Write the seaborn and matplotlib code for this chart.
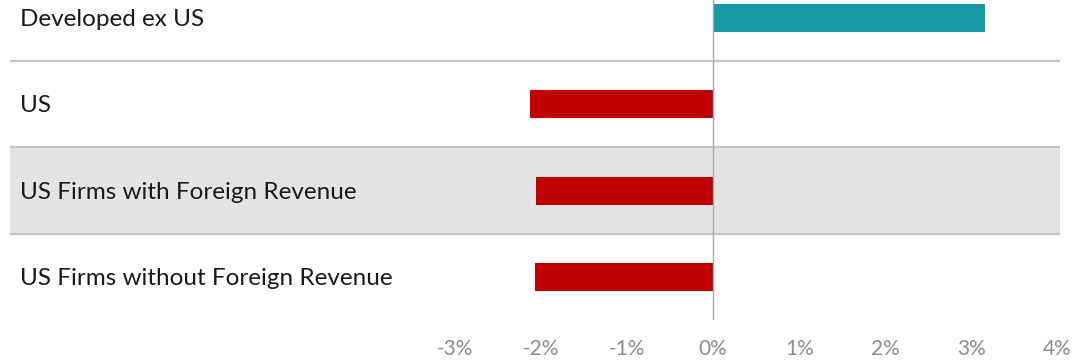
import matplotlib
matplotlib.use("Agg")
import matplotlib.pyplot as plt
import matplotlib.transforms as mtransforms
import seaborn as sns
import pandas as pd

categories = ["Developed ex US", "US", "US Firms with Foreign Revenue", "US Firms without Foreign Revenue"]
values = [3.16, -2.13, -2.06, -2.07]
bar_colors = ["#1698A5", "#C00000", "#C00000", "#C00000"]
tick_values = [-3, -2, -1, 0, 1, 2, 3, 4]
tick_labels = ["-3%", "-2%", "-1%", "0%", "1%", "2%", "3%", "4%"]

sns.set_style("white")
plt.rcParams["font.family"] = ["Lato", "DejaVu Sans"]

df = pd.DataFrame({"category": categories, "value": values})

W, H = 1076, 361
fig = plt.figure(figsize=(W / 100, H / 100), dpi=100)
ax = fig.add_axes([10 / W, (H - 320) / H, 1050 / W, 320 / H])

# shaded row
ax.axhspan(1.5, 2.5, color="#E4E4E4", zorder=0, lw=0)

sns.barplot(data=df, x="value", y="category", hue="category", palette=bar_colors,
            orient="h", width=0.32, legend=False, ax=ax, zorder=3, saturation=1,
            linewidth=0)

ax.set_xlim(-8.17, 4.03)
ax.set_ylim(3.495, -0.205)

# separators
for yb in [0.5, 1.5, 2.5]:
    ax.axhline(yb, color="#C4C4C4", lw=1.6, zorder=1)
ax.axvline(0, color="#A8A8A8", lw=1.0, zorder=4)

for s in ax.spines.values():
    s.set_visible(False)

ax.set_yticks([])
ax.set_ylabel("")
ax.set_xlabel("")
ax.set_xticks(tick_values)
ax.set_xticklabels(tick_labels)
ax.tick_params(axis="x", length=0, pad=14, labelsize=15, labelcolor="#8C8C8C")

trans = mtransforms.blended_transform_factory(ax.transAxes, ax.transData)
for i, c in enumerate(categories):
    ax.text(10 / 1050, i + 0.02, c, transform=trans, ha="left", va="center",
            fontsize=17.5, color="#1A1A1A")

fig.savefig("out.png", dpi=100)
